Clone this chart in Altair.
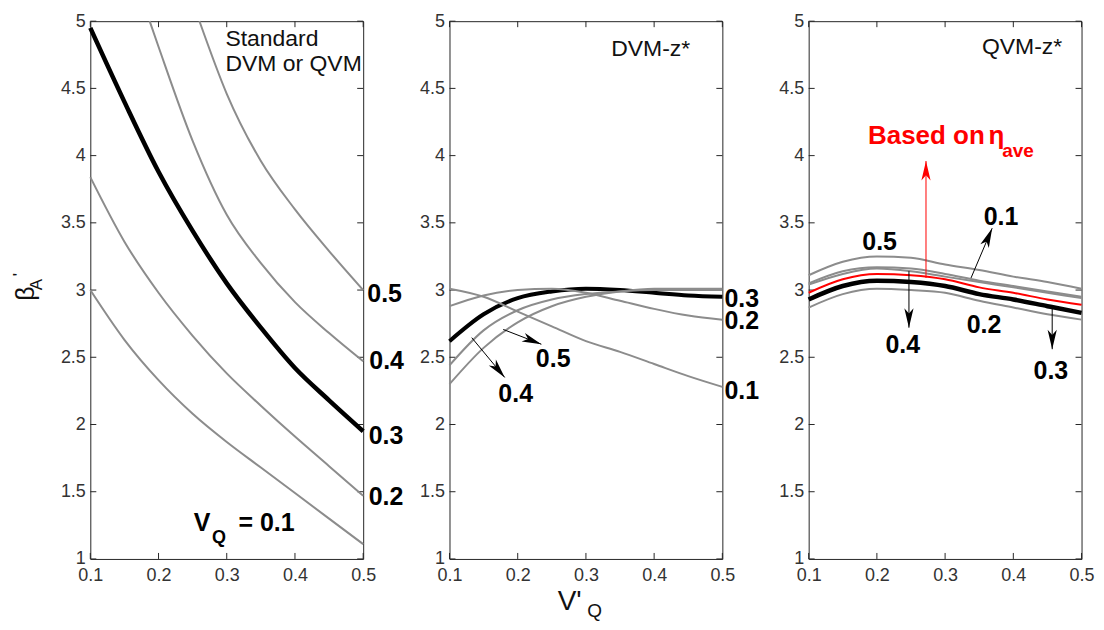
import math
import altair as alt
import pandas as pd

# ---------------- data ----------------
X_TICKS = [0.1, 0.2, 0.3, 0.4, 0.5]
Y_TICKS = [1, 1.5, 2, 2.5, 3, 3.5, 4, 4.5, 5]

VQ_X = [0.1, 0.15, 0.2, 0.25, 0.3, 0.35, 0.4, 0.45, 0.5]

# Panel 1: Standard DVM or QVM
STD_V01 = [3.00, 2.63, 2.33, 2.08, 1.87, 1.68, 1.49, 1.30, 1.11]
STD_V02 = [3.84, 3.36, 2.98, 2.66, 2.38, 2.14, 1.91, 1.69, 1.47]
STD_V03 = [4.95, 4.40, 3.88, 3.44, 3.05, 2.72, 2.42, 2.18, 1.95]
STD_X04 = [0.187, 0.2, 0.25, 0.3, 0.35, 0.4, 0.45, 0.5]
STD_V04 = [5.00, 4.81, 4.11, 3.56, 3.20, 2.91, 2.68, 2.47]
STD_X05 = [0.26, 0.3, 0.35, 0.4, 0.45, 0.5]
STD_V05 = [5.00, 4.46, 3.96, 3.60, 3.29, 3.00]

# Panel 2: DVM-z*
DVM_V01 = [3.01, 2.95, 2.84, 2.73, 2.62, 2.54, 2.45, 2.36, 2.28]
DVM_V02 = [2.88, 2.96, 3.00, 3.01, 2.98, 2.92, 2.86, 2.81, 2.78]
DVM_V03 = [2.62, 2.82, 2.94, 2.99, 3.01, 3.00, 2.98, 2.96, 2.95]
DVM_V04 = [2.44, 2.70, 2.85, 2.93, 2.97, 2.99, 3.00, 3.00, 3.00]
DVM_V05 = [2.30, 2.57, 2.76, 2.88, 2.95, 2.99, 3.01, 3.01, 3.01]

# Panel 3: QVM-z*
QVM_V05 = [3.11, 3.21, 3.25, 3.24, 3.19, 3.15, 3.10, 3.06, 3.01]
QVM_V01 = [3.05, 3.14, 3.17, 3.16, 3.12, 3.07, 3.03, 2.99, 2.95]
QVM_V04 = [3.04, 3.12, 3.16, 3.14, 3.10, 3.06, 3.02, 2.98, 2.94]
QVM_AVE = [2.98, 3.08, 3.12, 3.11, 3.08, 3.02, 2.98, 2.93, 2.89]
QVM_V03 = [2.93, 3.03, 3.07, 3.06, 3.03, 2.97, 2.93, 2.88, 2.83]
QVM_V02 = [2.87, 2.97, 3.01, 3.00, 2.98, 2.92, 2.87, 2.82, 2.78]

# annotations (text, x, y)
P1_END_TEXT = ["0.5", "0.4", "0.3", "0.2"]
P1_END_X = [0.506, 0.509, 0.508, 0.508]
P1_END_Y = [2.967, 2.469, 1.916, 1.459]
P1_TITLE_TEXT = ["Standard", "DVM or QVM"]
P1_TITLE_X = [0.298, 0.298]
P1_TITLE_Y = [4.87, 4.68]

P2_END_TEXT = ["0.3", "0.2", "0.1"]
P2_END_X = [0.503, 0.503, 0.503]
P2_END_Y = [2.93, 2.77, 2.25]
P2_LAB_TEXT = ["0.4", "0.5"]
P2_LAB_X = [0.197, 0.252]
P2_LAB_Y = [2.23, 2.49]
P2_ARROW_X1 = [0.1326, 0.1788]
P2_ARROW_Y1 = [2.646, 2.707]
P2_ARROW_X2 = [0.181, 0.2347]
P2_ARROW_Y2 = [2.35, 2.597]

P3_LAB_TEXT = ["0.5", "0.1", "0.4", "0.2", "0.3"]
P3_LAB_X = [0.204, 0.382, 0.238, 0.357, 0.455]
P3_LAB_Y = [3.36, 3.54, 2.59, 2.74, 2.40]
P3_ARROW_X1 = [0.338, 0.247, 0.457]
P3_ARROW_Y1 = [3.09, 3.14, 2.87]
P3_ARROW_X2 = [0.369, 0.247, 0.457]
P3_ARROW_Y2 = [3.46, 2.72, 2.56]
P3_RED_X1 = [0.272]
P3_RED_Y1 = [3.09]
P3_RED_X2 = [0.272]
P3_RED_Y2 = [3.96]

# ---------------- styling ----------------
W, H = 273.5, 539
FONT = "Liberation Sans"
GRAY = "#8c8c8c"
ARROW_PATH = "M0,0 L0.45,1.9 L0,1.4 L-0.45,1.9 Z"

xscale = alt.Scale(domain=[0.1, 0.5], nice=False, zero=False)
yscale = alt.Scale(domain=[1, 5], nice=False, zero=False)
xaxis = alt.Axis(values=X_TICKS, format="~g", ticks=False, domain=False, grid=False,
                 labelFontSize=18, labelFont=FONT, labelColor="#333333", labelPadding=8,
                 labelFlush=False, title=None)
yaxis = alt.Axis(values=Y_TICKS, format="~g", ticks=False, domain=False, grid=False,
                 labelFontSize=18, labelFont=FONT, labelColor="#333333", labelPadding=5,
                 title=None)


def X(field="x"):
    return alt.X(f"{field}:Q", scale=xscale, axis=xaxis)


def Y(field="y"):
    return alt.Y(f"{field}:Q", scale=yscale, axis=yaxis)


def curves(xlists, ylists, names):
    rows = []
    for xs, ys, n in zip(xlists, ylists, names):
        for a, b in zip(xs, ys):
            rows.append({"x": a, "y": b, "curve": n})
    return pd.DataFrame(rows)


def line_layer(df, color, width):
    return alt.Chart(df).mark_line(color=color, strokeWidth=width, interpolate="monotone").encode(
        x=X(), y=Y(), detail="curve:N")


def text_layer(texts, xs, ys, size, weight="bold", color="black", align="left", baseline="middle"):
    df = pd.DataFrame({"t": texts, "x": xs, "y": ys})
    return alt.Chart(df).mark_text(font=FONT, fontSize=size, fontWeight=weight, color=color,
                                   align=align, baseline=baseline).encode(x=X(), y=Y(), text="t:N")


def arrow_layers(x1, y1, x2, y2, color="black", size=420):
    ang = []
    for a, b, c, d in zip(x1, y1, x2, y2):
        dx = (c - a) * W / 0.4
        dy = -(d - b) * H / 4.0
        ang.append(math.degrees(math.atan2(dx, -dy)) % 360)
    df = pd.DataFrame({"x": x1, "y": y1, "x2": x2, "y2": y2, "ang": ang})
    shaft = alt.Chart(df).mark_rule(color=color, strokeWidth=1).encode(
        x=X(), y=Y(), x2="x2:Q", y2="y2:Q")
    head = alt.Chart(df).mark_point(shape=ARROW_PATH, filled=True, color=color, opacity=1,
                                    size=size, strokeWidth=0).encode(
        x=X("x2"), y=Y("y2"), angle=alt.Angle("ang:Q", scale=None))
    return [shaft, head]


def tick_layers():
    xt = pd.DataFrame({"x": X_TICKS})
    yt = pd.DataFrame({"y": Y_TICKS})
    c = "#262626"
    return [
        alt.Chart(xt).mark_rule(color=c, strokeWidth=1).encode(x=X(), y=alt.value(0), y2=alt.value(6)),
        alt.Chart(xt).mark_rule(color=c, strokeWidth=1).encode(x=X(), y=alt.value(H), y2=alt.value(H - 6)),
        alt.Chart(yt).mark_rule(color=c, strokeWidth=1).encode(y=Y(), x=alt.value(0), x2=alt.value(6)),
        alt.Chart(yt).mark_rule(color=c, strokeWidth=1).encode(y=Y(), x=alt.value(W), x2=alt.value(W - 6)),
    ]


def pix_text(t, px, py, size, angle=0, weight="normal"):
    df = pd.DataFrame({"t": [t]})
    kw = dict(font=FONT, fontSize=size, fontWeight=weight, color="#111111", align="center",
              baseline="middle")
    if angle:
        kw["angle"] = angle
    return alt.Chart(df).mark_text(**kw).encode(x=alt.value(px), y=alt.value(py), text="t:N")


def anchor(x1, y1, x2, y2):
    # invisible layout anchor that fixes the extent of the drawing
    return alt.Chart(pd.DataFrame({"a": [0]})).mark_rule(opacity=0, strokeWidth=0.1).encode(
        x=alt.value(x1), y=alt.value(y1), x2=alt.value(x2), y2=alt.value(y2))


# ---------------- panel 1 ----------------
p1_gray = curves([VQ_X, VQ_X, STD_X04, STD_X05], [STD_V01, STD_V02, STD_V04, STD_V05],
                 ["0.1", "0.2", "0.4", "0.5"])
p1_bold = curves([VQ_X], [STD_V03], ["0.3"])
p1 = alt.layer(
    anchor(-82, -16, -81, -15),
    *tick_layers(),
    line_layer(p1_gray, GRAY, 2),
    line_layer(p1_bold, "black", 4.5),
    text_layer(P1_END_TEXT, P1_END_X, P1_END_Y, 25),
    text_layer(P1_TITLE_TEXT, P1_TITLE_X, P1_TITLE_Y, 23, weight="normal", color="#111111"),
    text_layer(["V"], [0.2518], [1.21], 25, baseline="alphabetic"),
    text_layer(["Q"], [0.2782], [1.12], 18, baseline="alphabetic"),
    text_layer(["= 0.1"], [0.3172], [1.21], 25, baseline="alphabetic"),
    pix_text("β", -64.4, 273, 25, angle=270),
    pix_text("A", -53.3, 264, 17, angle=270),
    pix_text("'", -70.9, 254, 17, angle=270),
).properties(width=W, height=H)

# ---------------- panel 2 ----------------
p2_gray = curves([VQ_X] * 4, [DVM_V01, DVM_V02, DVM_V04, DVM_V05], ["0.1", "0.2", "0.4", "0.5"])
p2_bold = curves([VQ_X], [DVM_V03], ["0.3"])
p2 = alt.layer(
    anchor(100, 603, 101, 604),
    *tick_layers(),
    line_layer(p2_bold, "black", 4),
    line_layer(p2_gray, GRAY, 2),
    *arrow_layers(P2_ARROW_X1, P2_ARROW_Y1, P2_ARROW_X2, P2_ARROW_Y2),
    text_layer(P2_END_TEXT, P2_END_X, P2_END_Y, 25),
    text_layer(P2_LAB_TEXT, P2_LAB_X, P2_LAB_Y, 25, align="center"),
    text_layer(["DVM-z*"], [0.337], [4.79], 23, weight="normal", color="#111111"),
    pix_text("V'", 120.5, 582.5, 28),
    pix_text("Q", 145.5, 591.5, 19),
).properties(width=W, height=H)

# ---------------- panel 3 ----------------
p3_gray = curves([VQ_X] * 4, [QVM_V05, QVM_V01, QVM_V04, QVM_V02], ["0.5", "0.1", "0.4", "0.2"])
p3_bold = curves([VQ_X], [QVM_V03], ["0.3"])
p3_red = curves([VQ_X], [QVM_AVE], ["ave"])
p3 = alt.layer(
    anchor(W + 15, 300, W + 16, 301),
    *tick_layers(),
    line_layer(p3_gray, GRAY, 2),
    line_layer(p3_bold, "black", 4.5),
    line_layer(p3_red, "#ff0000", 2),
    *arrow_layers(P3_ARROW_X1, P3_ARROW_Y1, P3_ARROW_X2, P3_ARROW_Y2),
    *arrow_layers(P3_RED_X1, P3_RED_Y1, P3_RED_X2, P3_RED_Y2, color="#ff0000"),
    text_layer(P3_LAB_TEXT, P3_LAB_X, P3_LAB_Y, 25, align="center"),
    text_layer(["QVM-z*"], [0.354], [4.81], 23, weight="normal", color="#111111"),
    text_layer(["Based on"], [0.187], [4.083], 26, color="#ff0000", baseline="alphabetic"),
    text_layer(["η"], [0.3636], [4.083], 26, color="#ff0000", baseline="alphabetic"),
    text_layer(["ave"], [0.3838], [3.988], 19, color="#ff0000", baseline="alphabetic"),
).properties(width=W, height=H)

chart = alt.hconcat(p1, p2, p3, spacing=86, bounds="flush").configure_view(
    stroke="#262626", strokeWidth=1
).properties(
    background="white",
    padding={"left": -0.5, "top": -4.5, "right": -2, "bottom": -1.5},
)

chart.save("out.html", embed_options={"renderer": "svg", "actions": False})
